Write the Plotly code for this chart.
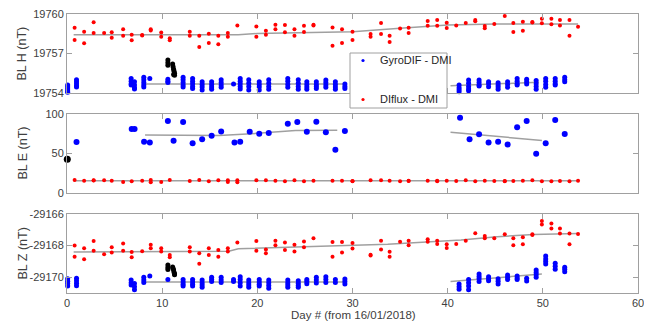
import plotly.graph_objects as go

# ---------------- data ----------------
# GyroDIF - DMI (clusters of repeated measurements per day)
gyro_days = [0.07, 1.0, 6.74, 7.09, 8.07, 8.7, 10.6, 12.2, 13.2, 14.2, 15.2, 16.2, 17.5, 18.2,
             19.1, 20.2, 21.2, 23.2, 24.3, 25.2, 26.2, 27.2, 28.2, 29.2, 41.2, 42.2, 43.3, 44.3,
             45.3, 46.3, 47.3, 48.3, 49.3, 50.3, 51.3, 52.3]
gyro_h = [
    [19754.6, 19754.45, 19754.3, 19754.15, 19754.05],
    [19755.0, 19754.85, 19754.7, 19754.55, 19754.45],
    [19755.1, 19754.9, 19754.7, 19754.6],
    [19754.85, 19754.6, 19754.4, 19754.3],
    [19755.2, 19755.0, 19754.8, 19754.6, 19754.45],
    [19755.1],
    [19755.04, 19754.9, 19754.8],
    [19755.2, 19755.0, 19754.8, 19754.6, 19754.45],
    [19755.1, 19754.9, 19754.7, 19754.5, 19754.35],
    [19754.85, 19754.65, 19754.45, 19754.22],
    [19754.85, 19754.65, 19754.45, 19754.28],
    [19755.0, 19754.8, 19754.6, 19754.43],
    [19754.68],
    [19755.1, 19754.9, 19754.7, 19754.5, 19754.3],
    [19755.0, 19754.75, 19754.5, 19754.22],
    [19754.85, 19754.65, 19754.45, 19754.22],
    [19755.0, 19754.75, 19754.5, 19754.28],
    [19755.1, 19754.9, 19754.65, 19754.43],
    [19755.0, 19754.75, 19754.5, 19754.28],
    [19754.86, 19754.65, 19754.45, 19754.28],
    [19754.86, 19754.65, 19754.5, 19754.35],
    [19754.99, 19754.8, 19754.6, 19754.43],
    [19754.86, 19754.65, 19754.45, 19754.28],
    [19754.68, 19754.5, 19754.35],
    [19754.6, 19754.4, 19754.25, 19754.1],
    [19754.99, 19754.75, 19754.5, 19754.3, 19754.18],
    [19754.99, 19754.8, 19754.6, 19754.53],
    [19754.86, 19754.7, 19754.47],
    [19754.78, 19754.6, 19754.45, 19754.28],
    [19754.86, 19754.65, 19754.43],
    [19755.11, 19754.9, 19754.7, 19754.6],
    [19755.04, 19754.85, 19754.68],
    [19754.94, 19754.7, 19754.5, 19754.28],
    [19755.11, 19754.9, 19754.65, 19754.43],
    [19755.11, 19754.9, 19754.7, 19754.6],
    [19755.19, 19755.0, 19754.86],
]
gyro_z = [
    [-29170.1, -29170.25, -29170.4, -29170.55],
    [-29170.07, -29170.22, -29170.38, -29170.54],
    [-29170.18, -29170.35, -29170.49],
    [-29170.4, -29170.6, -29170.8],
    [-29170.0, -29170.18, -29170.34],
    [-29169.93],
    [-29170.14],
    [-29170.14, -29170.3, -29170.45, -29170.56],
    [-29170.14, -29170.3, -29170.45, -29170.56],
    [-29170.18, -29170.35, -29170.5, -29170.64],
    [-29170.0, -29170.14, -29170.28],
    [-29170.0, -29170.18, -29170.34],
    [-29170.14, -29170.28],
    [-29169.97, -29170.15, -29170.35, -29170.56],
    [-29170.18, -29170.35, -29170.5, -29170.64],
    [-29170.14, -29170.3, -29170.45, -29170.56],
    [-29170.18, -29170.35, -29170.52, -29170.7],
    [-29170.18, -29170.35, -29170.5, -29170.64],
    [-29170.22, -29170.38, -29170.52, -29170.64],
    [-29170.14, -29170.28, -29170.41],
    [-29170.0, -29170.18, -29170.37],
    [-29169.97, -29170.15, -29170.34],
    [-29170.14, -29170.34],
    [-29170.12, -29170.27, -29170.43],
    [-29170.43, -29170.6, -29170.76],
    [-29170.14, -29170.35, -29170.55, -29170.8],
    [-29169.8, -29169.95, -29170.1, -29170.28],
    [-29169.97, -29170.1, -29170.22],
    [-29170.1, -29170.25, -29170.43],
    [-29169.86, -29170.0, -29170.14],
    [-29169.93, -29170.05, -29170.14],
    [-29170.07, -29170.24],
    [-29169.54, -29169.7, -29169.85, -29170.0],
    [-29168.66, -29168.85, -29169.0, -29169.16],
    [-29169.12, -29169.3, -29169.5],
    [-29169.37, -29169.5, -29169.65],
]
gyro_e_days = [1.0, 6.8, 7.1, 8.1, 8.7, 10.6, 11.2, 12.2, 13.2, 14.2, 15.2, 16.2, 17.6, 18.2,
               19.2, 20.2, 21.2, 23.2, 24.2, 25.2, 26.2, 27.2, 28.2, 29.2, 41.3, 42.3, 43.3,
               44.3, 45.3, 46.3, 47.3, 48.3, 49.3, 50.3, 51.3, 52.3]
gyro_e = [64.6, 81, 81, 65, 64, 91, 66, 90, 63, 68, 72.6, 78, 64, 65, 77.6, 75, 76, 87.8, 90,
          77.6, 90.3, 76.8, 54.9, 78.5, 95.4, 68.1, 74.4, 63.9, 64.8, 61.4, 83.1, 91, 49.8,
          62.9, 92.4, 74.8]

# DIflux - DMI
diflux_h_days = [0.8, 0.8, 1.8, 1.8, 2.8, 2.8, 3.9, 4.7, 4.7, 5.9, 5.9, 6.8, 6.8, 7.9, 7.9,
                 8.8, 8.8, 9.9, 9.9, 10.8, 10.8, 12.9, 12.9, 13.9, 13.9, 14.9, 14.9, 15.9, 15.9,
                 16.9, 16.9, 17.9, 19.9, 19.9, 20.9, 20.9, 21.9, 21.9, 22.9, 22.9, 23.9, 23.9,
                 24.9, 24.9, 25.9, 25.9, 27.9, 27.9, 28.9, 28.9, 30.0, 30.0, 31.9, 31.9, 33.0,
                 33.0, 33.9, 33.9, 35.0, 35.9, 35.9, 37.9, 37.9, 38.9, 38.9, 39.9, 39.9, 40.9,
                 41.9, 42.9, 42.9, 43.9, 43.9, 44.9, 46.0, 46.9, 46.9, 47.9, 47.9, 48.9, 48.9,
                 49.9, 49.9, 50.9, 50.9, 51.8, 51.8, 52.8, 52.8, 53.7]
diflux_h = [19758.96, 19758.03, 19758.66, 19757.77, 19759.37, 19758.56, 19758.56, 19758.61,
            19758.2, 19758.84, 19758.35, 19758.43, 19758.0, 19758.4, 19758.36, 19758.84,
            19758.75, 19758.6, 19758.28, 19758.15, 19758.0, 19758.66, 19758.35, 19758.35,
            19757.5, 19758.5, 19757.8, 19758.35, 19757.7, 19758.56, 19758.28, 19759.13,
            19759.06, 19758.28, 19758.73, 19758.43, 19759.19, 19758.84, 19759.16, 19758.61,
            19758.84, 19758.35, 19759.11, 19758.64, 19759.18, 19759.12, 19758.98, 19757.58,
            19758.84, 19757.8, 19758.66, 19758.03, 19758.48, 19758.28, 19759.32, 19758.48,
            19758.35, 19757.87, 19758.89, 19758.96, 19758.56, 19759.47, 19759.11, 19759.55,
            19759.11, 19759.34, 19758.94, 19759.13, 19759.32, 19759.55, 19759.45, 19759.09,
            19758.91, 19759.24, 19759.85, 19759.32, 19758.64, 19759.42, 19758.73, 19759.4,
            19759.35, 19759.63, 19759.29, 19759.63, 19759.22, 19759.55, 19759.13, 19759.55,
            19758.35, 19759.04]
diflux_e_days = [0.8, 1.8, 2.8, 2.8, 3.9, 4.7, 5.9, 6.8, 7.9, 8.8, 8.8, 9.9, 10.8, 12.9, 13.9,
                 14.9, 15.9, 16.9, 16.9, 17.9, 17.9, 19.9, 20.9, 21.9, 22.9, 23.9, 24.9, 25.9,
                 27.9, 28.9, 30.0, 30.0, 31.9, 33.0, 33.9, 35.0, 35.9, 35.9, 37.9, 38.9, 38.9,
                 39.9, 40.9, 41.9, 42.9, 43.9, 44.9, 46.0, 46.0, 46.9, 47.9, 48.9, 49.9, 50.9,
                 51.8, 52.8, 53.7]
diflux_e = [16.5, 15.6, 16.1, 15.8, 16.1, 15.6, 13.9, 14.8, 15.6, 16.5, 13.5, 13.9, 16.5, 15.2,
            16.5, 14.8, 16.1, 16.1, 13.9, 16.1, 13.5, 16.1, 16.1, 15.6, 14.8, 16.1, 14.8, 15.6,
            15.6, 15.6, 15.2, 14.8, 16.1, 16.1, 15.6, 14.8, 15.6, 15.2, 15.6, 14.8, 15.6, 15.6,
            15.2, 16.1, 14.8, 15.6, 15.2, 15.2, 14.8, 15.2, 15.6, 16.1, 14.8, 14.8, 15.2, 14.8,
            15.6]
diflux_z_days = [0.8, 0.8, 1.8, 1.8, 2.8, 2.8, 3.9, 4.7, 4.7, 5.9, 5.9, 6.8, 6.8, 7.9, 8.8,
                 8.8, 9.9, 9.9, 10.8, 10.8, 12.9, 12.9, 13.9, 13.9, 14.9, 14.9, 15.9, 15.9, 16.9,
                 16.9, 17.9, 19.9, 19.9, 20.9, 20.9, 21.9, 21.9, 22.9, 22.9, 23.9, 23.9, 24.9,
                 24.9, 25.9, 27.9, 27.9, 28.9, 28.9, 30.0, 30.0, 31.9, 31.9, 33.0, 33.0, 33.9,
                 33.9, 35.0, 35.9, 35.9, 37.9, 37.9, 38.9, 38.9, 39.9, 39.9, 40.9, 41.9, 42.9,
                 43.9, 43.9, 44.9, 46.0, 46.9, 46.9, 47.9, 47.9, 48.9, 48.9, 49.9, 49.9, 50.9,
                 50.9, 51.8, 51.8, 52.8, 52.8, 53.7]
diflux_z = [-29168.0, -29168.7, -29168.17, -29168.87, -29167.71, -29168.32, -29168.55,
            -29168.11, -29168.43, -29167.86, -29168.32, -29168.41, -29168.73, -29168.35,
            -29167.95, -29168.17, -29168.17, -29168.38, -29168.6, -29168.73, -29168.11,
            -29168.38, -29168.48, -29169.15, -29168.17, -29168.6, -29168.28, -29168.7,
            -29168.17, -29168.38, -29167.8, -29167.71, -29168.32, -29168.24, -29168.48,
            -29167.69, -29167.97, -29167.8, -29168.28, -29167.95, -29168.38, -29167.74,
            -29168.11, -29167.53, -29167.78, -29168.7, -29167.78, -29168.43, -29167.84,
            -29168.19, -29168.58, -29168.62, -29167.69, -29168.24, -29168.39, -29168.7,
            -29167.76, -29167.69, -29167.97, -29167.6, -29167.76, -29167.69, -29167.9,
            -29167.92, -29168.15, -29167.9, -29167.69, -29167.22, -29167.4, -29167.53,
            -29167.53, -29167.28, -29167.53, -29167.97, -29167.47, -29167.92, -29167.28,
            -29167.33, -29166.44, -29166.67, -29166.6, -29166.92, -29166.92, -29167.24,
            -29167.24, -29167.92, -29167.26]

# other reference measurements (black)
black_h_days = [10.6, 10.6, 10.6, 11.1, 11.15, 11.2, 11.25, 11.3, 11.2, 11.3]
black_h = [19756.5, 19756.3, 19756.1, 19756.2, 19756.0, 19755.8, 19755.65, 19755.5, 19755.4, 19755.35]
black_e_days = [0.03]
black_e = [42.6]
black_z_days = [10.6, 10.6, 10.6, 11.1, 11.15, 11.2, 11.25, 11.3, 11.3]
black_z = [-29169.23, -29169.38, -29169.52, -29169.35, -29169.45, -29169.55, -29169.68, -29169.78, -29169.85]

# trend curves
trend_dif_h_days = [0.7, 18, 20, 26.6, 30, 35, 40, 45, 53.7]
trend_dif_h = [19758.43, 19758.43, 19758.52, 19758.61, 19758.66, 19758.91, 19759.16, 19759.24, 19759.24]
trend_gyro_h1_days = [8.2, 29.2]
trend_gyro_h1 = [19754.68, 19754.68]
trend_gyro_h2_days = [40.3, 49.6]
trend_gyro_h2 = [19754.55, 19754.82]
trend_dif_e_days = [0.7, 53.7]
trend_dif_e = [15.4, 15.4]
trend_gyro_e1_days = [8.2, 16, 20, 24, 28.4]
trend_gyro_e1 = [73.4, 72.8, 75.5, 79.0, 79.5]
trend_gyro_e2_days = [40.3, 49.9]
trend_gyro_e2 = [76.8, 66.6]
trend_dif_z_days = [0.7, 17, 18, 26.6, 33.7, 41.4, 45.2, 49, 53.7]
trend_dif_z = [-29168.41, -29168.35, -29168.2, -29168.07, -29167.92, -29167.65, -29167.44, -29167.3, -29167.24]
trend_gyro_z1_days = [8.1, 29.2]
trend_gyro_z1 = [-29170.3, -29170.3]
trend_gyro_z2_days = [40.3, 49.9]
trend_gyro_z2 = [-29170.28, -29169.8]

x_ticks = [0, 10, 20, 30, 40, 50, 60]
h_ticks = [19754, 19757, 19760]
e_ticks = [0, 50, 100]
z_ticks = [-29170, -29168, -29166]

# ---------------- figure ----------------
# The page body has an 8 px margin, so the figure is sized/offset to compensate.
OFF = 8
W, H = 652 - OFF, 322 - OFF
PL, PR, PT, PB = 67, 638, 14, 293          # plot area in window pixels
ML, MR, MT, MB = PL - OFF, 652 - PR, PT - OFF, 322 - PB
PW, PH = PR - PL, PB - PT


def px2x(px):
    return (px - PL) / PW


def py2y(py):
    return 1 - (py - PT) / PH


FONT = "Arial, Liberation Sans, Helvetica, sans-serif"
AXC = "#a0a0a0"
TXT = "#404040"
GRAY = "rgb(160,160,160)"
BLUE = "#0000ff"
RED = "#ff0000"

fig = go.Figure()


def flat(days, groups):
    xs, ys = [], []
    for d, g in zip(days, groups):
        for v in g:
            xs.append(d)
            ys.append(v)
    return xs, ys


def add_line(xs, ys, ax):
    fig.add_trace(go.Scatter(x=xs, y=ys, mode="lines", line=dict(color=GRAY, width=1.5),
                             xaxis="x" + ax, yaxis="y" + ax, showlegend=False, hoverinfo="skip"))


def add_pts(xs, ys, ax, color, size):
    fig.add_trace(go.Scatter(x=xs, y=ys, mode="markers", marker=dict(color=color, size=size),
                             xaxis="x" + ax, yaxis="y" + ax, showlegend=False, cliponaxis=False))


# top panel (H)
gx, gy = flat(gyro_days, gyro_h)
add_line(trend_dif_h_days, trend_dif_h, "")
add_line(trend_gyro_h1_days, trend_gyro_h1, "")
add_line(trend_gyro_h2_days, trend_gyro_h2, "")
add_pts(diflux_h_days, diflux_h, "", RED, 4)
add_pts(gx, gy, "", BLUE, 5)
add_pts(black_h_days, black_h, "", "black", 5)

# middle panel (E)
add_line(trend_dif_e_days, trend_dif_e, "2")
add_line(trend_gyro_e1_days, trend_gyro_e1, "2")
add_line(trend_gyro_e2_days, trend_gyro_e2, "2")
add_pts(diflux_e_days, diflux_e, "2", RED, 4)
add_pts(gyro_e_days, gyro_e, "2", BLUE, 6)
add_pts(black_e_days, black_e, "2", "black", 7)

# bottom panel (Z)
gx, gy = flat(gyro_days, gyro_z)
add_line(trend_dif_z_days, trend_dif_z, "3")
add_line(trend_gyro_z1_days, trend_gyro_z1, "3")
add_line(trend_gyro_z2_days, trend_gyro_z2, "3")
add_pts(diflux_z_days, diflux_z, "3", RED, 4)
add_pts(gx, gy, "3", BLUE, 5)
add_pts(black_z_days, black_z, "3", "black", 5)

common_ax = dict(showline=True, linecolor=AXC, linewidth=1, mirror="ticks", ticks="inside",
                 ticklen=5, tickcolor=AXC, showgrid=False, zeroline=False,
                 ticklabeloverflow="allow",
                 tickfont=dict(family=FONT, size=11, color=TXT))

dom_top = [py2y(93), 1.0]
dom_mid = [py2y(193), py2y(114)]
dom_bot = [0.0, py2y(214)]

fig.update_layout(
    width=W, height=H, margin=dict(l=ML, r=MR, t=MT, b=MB, autoexpand=False),
    paper_bgcolor="white", plot_bgcolor="white", showlegend=False,
    xaxis=dict(common_ax, range=[0, 60], tickvals=x_ticks, showticklabels=False, anchor="y"),
    xaxis2=dict(common_ax, range=[0, 60], tickvals=x_ticks, showticklabels=False, anchor="y2", matches="x"),
    xaxis3=dict(common_ax, range=[0, 60], tickvals=x_ticks, ticktext=[str(t) for t in x_ticks],
                anchor="y3", matches="x"),
    yaxis=dict(common_ax, domain=dom_top, range=[19754, 19760], tickvals=h_ticks,
               ticktext=[str(t) for t in h_ticks], anchor="x"),
    yaxis2=dict(common_ax, domain=dom_mid, range=[0, 100], tickvals=e_ticks,
                ticktext=[str(t) for t in e_ticks], anchor="x2"),
    yaxis3=dict(common_ax, domain=dom_bot, range=[-29171, -29166], tickvals=z_ticks,
                ticktext=[str(t) for t in z_ticks], anchor="x3"),
)

# axis titles
title_font = dict(family=FONT, size=12.5, color=TXT)
for label, y0, y1 in [("BL H (nT)", 14, 93), ("BL E (nT)", 114, 193), ("BL Z (nT)", 214, 293)]:
    fig.add_annotation(text=label, xref="paper", yref="paper", x=px2x(22), y=py2y((y0 + y1) / 2),
                       textangle=-90, showarrow=False, font=title_font, xanchor="center", yanchor="middle")
fig.add_annotation(text="Day # (from 16/01/2018)", xref="paper", yref="paper", x=px2x(353),
                   y=py2y(314.5), showarrow=False, font=dict(family=FONT, size=11.5, color=TXT),
                   xanchor="center", yanchor="middle")

# legend box (drawn manually to match position)
fig.add_shape(type="rect", xref="paper", yref="paper", x0=px2x(350), x1=px2x(447),
              y0=py2y(108), y1=py2y(53), line=dict(color=AXC, width=1), fillcolor="white", layer="above")
for name, color, py in [("GyroDIF - DMI", BLUE, 60.5), ("DIflux - DMI", RED, 99.5)]:
    fig.add_shape(type="circle", xref="paper", yref="paper", xsizemode="pixel", ysizemode="pixel",
                  xanchor=px2x(363), yanchor=py2y(py), x0=-1.6, x1=1.6, y0=-1.6, y1=1.6,
                  fillcolor=color, line=dict(width=0), layer="above")
    fig.add_annotation(text=name, xref="paper", yref="paper", x=px2x(378), y=py2y(py),
                       showarrow=False, font=dict(family=FONT, size=11, color="#262626"),
                       xanchor="left", yanchor="middle")

fig.write_html("out.html")
